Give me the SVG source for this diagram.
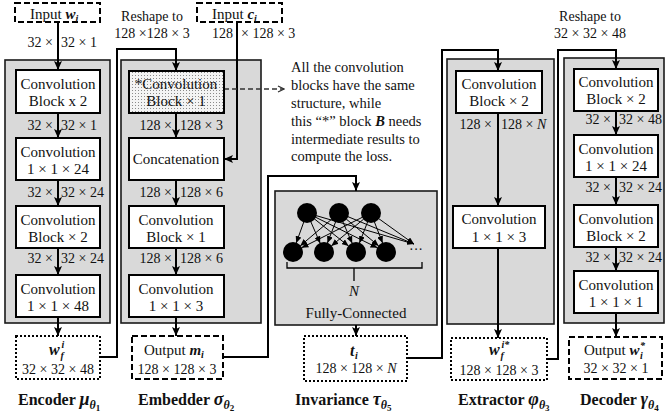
<svg xmlns="http://www.w3.org/2000/svg" width="669" height="414" viewBox="0 0 669 414">
<defs>
<marker id="ah" markerUnits="userSpaceOnUse" markerWidth="9" markerHeight="9" viewBox="0 0 9 9" refX="9" refY="4.5" orient="auto"><path d="M0,0.5 L9,4.5 L0,8.5 L2,4.5 z" fill="#000"/></marker>
<marker id="ahs" markerUnits="userSpaceOnUse" markerWidth="7" markerHeight="6" viewBox="0 0 7 6" refX="7" refY="3" orient="auto"><path d="M0,0 L7,3 L0,6 z" fill="#000"/></marker>
<marker id="open" markerUnits="userSpaceOnUse" markerWidth="8" markerHeight="8" viewBox="0 0 8 8" refX="7" refY="4" orient="auto"><path d="M1,1 L7,4 L1,7" fill="none" stroke="#333" stroke-width="1.3"/></marker>
<pattern id="dots" width="3" height="3" patternUnits="userSpaceOnUse"><rect width="3" height="3" fill="#f4f4f4"/><rect width="1" height="1" fill="#8a8a8a"/></pattern>
</defs>
<style>
text{font-family:"Liberation Serif","Times New Roman",serif;fill:#111}
.bx{font-size:15px;text-anchor:middle}
.lb{font-size:14px}
.e{text-anchor:end}
.m{text-anchor:middle}
.bi{font-weight:bold;font-style:italic}
.it{font-style:italic}
.ttl{font-size:16px;font-weight:bold}
.gk{font-size:18px}
.panel{fill:#d9d9d9;stroke:#1a1a1a;stroke-width:1.6}
.box{fill:#fff;stroke:#000;stroke-width:2}
.dash{fill:#fff;stroke:#000;stroke-width:2;stroke-dasharray:6 3}
.dot{fill:#fff;stroke:#000;stroke-width:2;stroke-dasharray:2 2}
.c{fill:none;stroke:#000;stroke-width:2}
.cs{fill:none;stroke:#000;stroke-width:1}
</style>
<rect width="669" height="414" fill="#fff"/>

<!-- panels -->
<g id="encoder">
<rect class="panel" x="5" y="60" width="105" height="263"/>
<text class="ttl" x="18" y="405">Encoder <tspan class="bi gk">μ</tspan><tspan class="it" font-size="12" dy="4">θ</tspan><tspan font-size="9" dy="2">1</tspan></text>
</g>
<g id="embedder">
<rect class="panel" x="121" y="60" width="140" height="263"/>
<text class="ttl" x="138" y="405">Embedder <tspan class="bi gk">σ</tspan><tspan class="it" font-size="12" dy="4">θ</tspan><tspan font-size="9" dy="2">2</tspan></text>
</g>
<g id="invariance">
<rect class="panel" x="275" y="191" width="162" height="134"/>
<text class="ttl" x="295" y="405">Invariance <tspan class="it gk">τ</tspan><tspan class="it" font-size="12" dy="4">θ</tspan><tspan font-size="9" dy="2">5</tspan></text>
</g>
<g id="extractor">
<rect class="panel" x="447" y="59" width="107" height="265"/>
<text class="ttl" x="458" y="405">Extractor <tspan class="bi gk">φ</tspan><tspan class="it" font-size="12" dy="4">θ</tspan><tspan font-size="9" dy="2">3</tspan></text>
</g>
<g id="decoder">
<rect class="panel" x="564" y="58" width="100" height="265"/>
<text class="ttl" x="580" y="405">Decoder <tspan class="bi gk">γ</tspan><tspan class="it" font-size="12" dy="4">θ</tspan><tspan font-size="9" dy="2">4</tspan></text>
</g>

<!-- connectors -->
<g id="connectors">
<path class="c" d="M58,22 V70" marker-end="url(#ah)"/>
<path class="c" d="M58,113 V138" marker-end="url(#ah)"/>
<path class="c" d="M58,180 V206" marker-end="url(#ah)"/>
<path class="c" d="M58,248 V275" marker-end="url(#ah)"/>
<path class="c" d="M58,317 V336" marker-end="url(#ah)"/>
<path class="c" d="M100,357 H117 V49 H176 V71" marker-end="url(#ah)"/>
<path class="c" d="M237,22 V159 H224" marker-end="url(#ah)"/>
<path class="c" d="M176,113 V138" marker-end="url(#ah)"/>
<path class="c" d="M176,180 V206" marker-end="url(#ah)"/>
<path class="c" d="M176,248 V275" marker-end="url(#ah)"/>
<path class="c" d="M176,317 V336" marker-end="url(#ah)"/>
<path class="c" d="M223,357 H268 V176 H356 V191" marker-end="url(#ah)"/>
<path class="c" d="M356,325 V336" marker-end="url(#ah)"/>
<path class="c" d="M407,358 H442 V50 H498 V71" marker-end="url(#ah)"/>
<path class="c" d="M498,113 V206" marker-end="url(#ah)"/>
<path class="c" d="M498,248 V338" marker-end="url(#ah)"/>
<path class="c" d="M547,359 H558 V50 H616 V69" marker-end="url(#ah)"/>
<path class="c" d="M616,111 V135" marker-end="url(#ah)"/>
<path class="c" d="M616,177 V205" marker-end="url(#ah)"/>
<path class="c" d="M616,247 V271" marker-end="url(#ah)"/>
<path class="c" d="M616,313 V337" marker-end="url(#ah)"/>
<path d="M224,89 H284" fill="none" stroke="#333" stroke-width="1.3" stroke-dasharray="5 3" marker-end="url(#open)"/>
</g>

<!-- dimension labels -->
<g id="labels" class="lb">
<text class="lb e" x="53" y="47">32 ×</text><text class="lb" x="61" y="47">32 × 1</text>
<text class="lb e" x="53" y="130">32 ×</text><text class="lb" x="61" y="130">32 × 1</text>
<text class="lb e" x="53" y="197">32 ×</text><text class="lb" x="61" y="197">32 × 24</text>
<text class="lb e" x="53" y="263">32 ×</text><text class="lb" x="61" y="263">32 × 24</text>
<text class="lb m" x="152" y="21">Reshape to</text>
<text class="lb m" x="152" y="38">128 ×128 × 3</text>
<text class="lb e" x="233" y="38">128</text><text class="lb" x="241" y="38">× 128 × 3</text>
<text class="lb e" x="172" y="130">128 ×</text><text class="lb" x="180" y="130">128 × 3</text>
<text class="lb e" x="172" y="197">128 ×</text><text class="lb" x="180" y="197">128 × 6</text>
<text class="lb e" x="172" y="263">128 ×</text><text class="lb" x="180" y="263">128 × 6</text>
<text class="lb e" x="492" y="129">128 ×</text><text class="lb" x="501" y="129">128 × <tspan class="it">N</tspan></text>
<text class="lb m" x="590" y="21">Reshape to</text>
<text class="lb m" x="590" y="38">32 × 32 × 48</text>
<text class="lb e" x="611" y="124">32 ×</text><text class="lb" x="619" y="124">32 × 48</text>
<text class="lb e" x="611" y="192">32 ×</text><text class="lb" x="619" y="192">32 × 24</text>
<text class="lb e" x="611" y="262">32 ×</text><text class="lb" x="619" y="262">32 × 24</text>
</g>

<!-- note -->
<g id="note">
<text x="291" y="72" font-size="14.5">All the convolution</text>
<text x="291" y="90" font-size="14.5">blocks have the same</text>
<text x="291" y="108" font-size="14.5">structure, while</text>
<text x="291" y="126" font-size="14.5">this “*” block <tspan class="bi">B</tspan> needs</text>
<text x="291" y="143.5" font-size="14.5">intermediate results to</text>
<text x="291" y="161" font-size="14.5">compute the loss.</text>
</g>

<!-- encoder nodes -->
<g id="input-w">
<rect class="dash" x="15" y="3" width="85" height="19"/>
<text x="30" y="19" font-size="15">Input <tspan class="bi">w</tspan><tspan class="bi" font-size="10" dy="3">i</tspan></text>
</g>
<g id="enc-b1"><rect class="box" x="16" y="70" width="84" height="43"/><text class="bx" x="58" y="89">Convolution</text><text class="bx" x="58" y="106">Block x 2</text></g>
<g id="enc-b2"><rect class="box" x="16" y="138" width="84" height="42"/><text class="bx" x="58" y="156.5">Convolution</text><text class="bx" x="58" y="173.5">1 × 1 × 24</text></g>
<g id="enc-b3"><rect class="box" x="16" y="206" width="84" height="42"/><text class="bx" x="58" y="224.5">Convolution</text><text class="bx" x="58" y="241.5">Block × 2</text></g>
<g id="enc-b4"><rect class="box" x="16" y="275" width="84" height="42"/><text class="bx" x="58" y="293.5">Convolution</text><text class="bx" x="58" y="310.5">1 × 1 × 48</text></g>
<g id="enc-out">
<rect class="dot" x="16" y="336" width="84" height="43"/>
<text class="bi" x="49" y="355" font-size="16">w</text>
<text class="bi" x="61.5" y="348" font-size="10">i</text>
<text class="bi" x="60.5" y="359" font-size="10">f</text>
<text class="lb m" x="58" y="374">32 × 32 × 48</text>
</g>

<!-- embedder nodes -->
<g id="input-c">
<rect class="dash" x="197" y="3" width="85" height="19"/>
<text x="212" y="19" font-size="15">Input <tspan class="bi">c</tspan><tspan class="bi" font-size="10" dy="3">i</tspan></text>
</g>
<g id="emb-b1"><rect x="129" y="71" width="95" height="42" fill="url(#dots)" stroke="#000" stroke-width="2"/><text class="bx" x="176" y="89">*Convolution</text><text class="bx" x="176" y="106">Block × 1</text></g>
<g id="emb-b2"><rect class="box" x="129" y="138" width="95" height="42"/><text class="bx" x="176" y="164">Concatenation</text></g>
<g id="emb-b3"><rect class="box" x="129" y="206" width="95" height="42"/><text class="bx" x="176" y="224.5">Convolution</text><text class="bx" x="176" y="241.5">Block × 1</text></g>
<g id="emb-b4"><rect class="box" x="129" y="275" width="95" height="42"/><text class="bx" x="176" y="293.5">Convolution</text><text class="bx" x="176" y="310.5">1 × 1 × 3</text></g>
<g id="emb-out">
<rect class="dash" x="132" y="336" width="91" height="43"/>
<text x="144" y="355" font-size="15">Output <tspan class="bi">m</tspan><tspan class="bi" font-size="10" dy="3">i</tspan></text>
<text class="lb m" x="177" y="374">128 × 128 × 3</text>
</g>

<!-- invariance content -->
<g id="fc-net">
<circle cx="307" cy="213" r="10"/><circle cx="339" cy="213" r="10"/><circle cx="371" cy="213" r="10"/>
<circle cx="293" cy="252" r="10"/><circle cx="324" cy="252" r="10"/><circle cx="356" cy="252" r="10"/><circle cx="386" cy="252" r="10"/>
<path class="cs" d="M303.8,221.9 L296.2,243.1" marker-end="url(#ahs)"/>
<path class="cs" d="M310.8,221.7 L320.2,243.3" marker-end="url(#ahs)"/>
<path class="cs" d="M314.4,218.9 L348.6,246.1" marker-end="url(#ahs)"/>
<path class="cs" d="M315.5,217.2 L377.5,247.8" marker-end="url(#ahs)"/>
<path class="cs" d="M316.1,215.6 L414,244" marker-end="url(#ahs)"/>
<path class="cs" d="M331.8,219.1 L300.2,245.9" marker-end="url(#ahs)"/>
<path class="cs" d="M335.6,221.9 L327.4,243.1" marker-end="url(#ahs)"/>
<path class="cs" d="M342.8,221.7 L352.2,243.3" marker-end="url(#ahs)"/>
<path class="cs" d="M346.3,219.1 L378.7,245.9" marker-end="url(#ahs)"/>
<path class="cs" d="M347.8,216.6 L414,244" marker-end="url(#ahs)"/>
<path class="cs" d="M362.5,217.2 L301.5,247.8" marker-end="url(#ahs)"/>
<path class="cs" d="M363.7,219.1 L331.3,245.9" marker-end="url(#ahs)"/>
<path class="cs" d="M367.6,221.9 L359.4,243.1" marker-end="url(#ahs)"/>
<path class="cs" d="M374.4,221.9 L382.6,243.1" marker-end="url(#ahs)"/>
<path class="cs" d="M378.7,218.6 L414,244" marker-end="url(#ahs)"/>
<text x="416" y="254" font-size="14" class="m">···</text>
<path d="M287,262 V268 H422 V262 M354,268 V281" fill="none" stroke="#000" stroke-width="1.3"/>
<text class="it m" x="354" y="296" font-size="15">N</text>
<text class="bx" x="356" y="318">Fully-Connected</text>
</g>
<g id="inv-out">
<rect class="dot" x="304" y="336" width="103" height="45"/>
<text class="bi" x="350" y="356" font-size="16">t</text><text class="bi" x="355" y="359" font-size="10">i</text>
<text class="lb m" x="356" y="373">128 × 128 × <tspan class="it">N</tspan></text>
</g>

<!-- extractor nodes -->
<g id="ext-b1"><rect class="box" x="456" y="71" width="86" height="42"/><text class="bx" x="499" y="89">Convolution</text><text class="bx" x="499" y="106">Block × 2</text></g>
<g id="ext-b2"><rect class="box" x="453" y="206" width="92" height="42"/><text class="bx" x="499" y="224">Convolution</text><text class="bx" x="499" y="241.5">1 × 1 × 3</text></g>
<g id="ext-out">
<rect class="dot" x="451" y="338" width="96" height="42"/>
<text class="bi" x="489" y="355" font-size="16">w</text>
<text class="bi" x="501.5" y="348" font-size="10">i*</text>
<text class="bi" x="500.5" y="359" font-size="10">f</text>
<text class="lb m" x="499" y="375">128 × 128 × 3</text>
</g>

<!-- decoder nodes -->
<g id="dec-b1"><rect class="box" x="574" y="69" width="84" height="42"/><text class="bx" x="616" y="87">Convolution</text><text class="bx" x="616" y="104">Block × 2</text></g>
<g id="dec-b2"><rect class="box" x="574" y="135" width="84" height="42"/><text class="bx" x="616" y="153.5">Convolution</text><text class="bx" x="616" y="170.5">1 × 1 × 24</text></g>
<g id="dec-b3"><rect class="box" x="574" y="205" width="84" height="42"/><text class="bx" x="616" y="223.5">Convolution</text><text class="bx" x="616" y="240.5">Block × 2</text></g>
<g id="dec-b4"><rect class="box" x="574" y="271" width="84" height="42"/><text class="bx" x="616" y="289.5">Convolution</text><text class="bx" x="616" y="306.5">1 × 1 × 1</text></g>
<g id="dec-out">
<rect class="dash" x="569" y="337" width="93" height="42"/>
<text x="584" y="355" font-size="15">Output <tspan class="bi">w</tspan></text>
<text class="bi" x="640" y="349" font-size="10">*</text>
<text class="bi" x="640" y="359" font-size="10">i</text>
<text class="lb m" x="616" y="373">32 × 32 × 1</text>
</g>
</svg>
